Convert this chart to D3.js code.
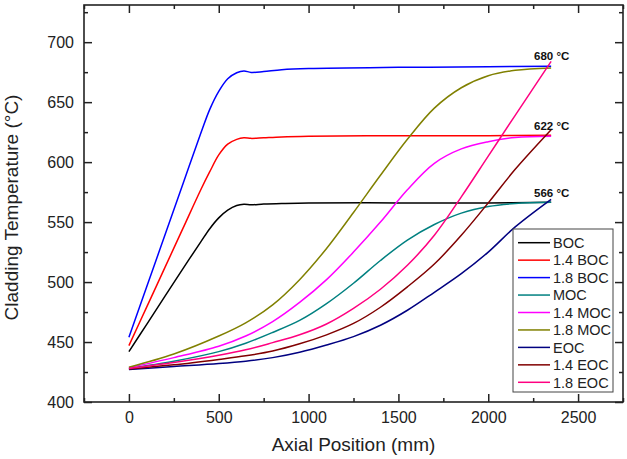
<!DOCTYPE html>
<html>
<head>
<meta charset="utf-8">
<script src="https://cdn.jsdelivr.net/npm/d3@7"></script>
<style>
  html, body { margin: 0; padding: 0; background: #fff; }
  svg { display: block; }
  text { font-family: "Liberation Sans", Arial, sans-serif; }
</style>
</head>
<body>
<svg id="chart" width="627" height="459"></svg>
<script>
// ---- Data ----
const bocX = [0, 100, 200, 300, 400, 450, 500, 550, 600, 640, 680, 750, 850, 1000, 1500, 2000, 2350];
const boc    = [442, 465, 488, 511, 533.5, 544.5, 553.5, 560, 563.8, 564.8, 564.4, 565, 565.5, 566, 566, 566, 566.5];
const boc14  = [447, 479.5, 512, 544.5, 577, 592, 606, 615, 619, 620.3, 619.8, 620.3, 621, 621.5, 622, 622, 622.5];
const boc18  = [454, 496.5, 539, 581.5, 624, 644, 659, 669.5, 674.5, 676, 674.8, 675.5, 677, 678, 679, 679.5, 680];

const lowX = [0, 250, 500, 650, 800, 950, 1100, 1250, 1400, 1550, 1700, 1850, 2000, 2150, 2350];
const moc    = [428, 434, 442, 449, 458, 468, 482, 499, 518, 535, 548, 557.5, 563, 565.5, 566.5];
const moc14  = [428.5, 437, 446.5, 455, 467, 483, 502, 525, 550, 577, 599, 611, 617, 620.5, 621.5];
const moc18  = [429, 440, 455, 466, 481, 502, 528, 558, 589, 619, 645, 662, 672, 676.5, 678.5];
const eoc    = [427, 429.5, 432, 434, 437, 441.5, 447.5, 454.5, 464, 476.5, 491.5, 507, 525, 546, 569];
const eoc14  = [427.5, 431, 435.5, 438.5, 442.5, 448.5, 456, 465.5, 479, 496, 515, 539, 566, 594, 627];
const eoc18  = [428, 433, 439, 443.5, 449.5, 456, 465, 478, 494, 514, 539, 571, 605, 639, 684];

const seriesNames  = ["BOC", "1.4 BOC", "1.8 BOC", "MOC", "1.4 MOC", "1.8 MOC", "EOC", "1.4 EOC", "1.8 EOC"];
const seriesColors = ["#000000", "#ff0000", "#0000ff", "#008080", "#ff00ff", "#808000", "#000080", "#800000", "#ff0080"];
const seriesX      = [bocX, bocX, bocX, lowX, lowX, lowX, lowX, lowX, lowX];
const seriesY      = [boc, boc14, boc18, moc, moc14, moc18, eoc, eoc14, eoc18];

const xTicks = [0, 500, 1000, 1500, 2000, 2500];
const xMinor = [-250, 250, 750, 1250, 1750, 2250, 2750];
const yTicks = [400, 450, 500, 550, 600, 650, 700];
const yMinor = [425, 475, 525, 575, 625, 675, 725];

const annotations = [
  { label: "680 \u00B0C", x: 2255, y: 680 },
  { label: "622 \u00B0C", x: 2255, y: 622 },
  { label: "566 \u00B0C", x: 2255, y: 566 }
];

const xTitle = "Axial Position (mm)";
const yTitle = "Cladding Temperature (\u00B0C)";

// ---- Layout ----
const L = 84, R = 623, T = 5, B = 402;
const svg = d3.select("#chart");

const x = d3.scaleLinear().domain([-250, 2750]).range([L, R]);
const y = d3.scaleLinear().domain([400, 731]).range([B, T]);

svg.append("defs").append("clipPath").attr("id", "clip")
  .append("rect").attr("x", L).attr("y", T).attr("width", R - L).attr("height", B - T);

// ---- Lines ----
const line = d3.line().x(d => x(d[0])).y(d => y(d[1])).curve(d3.curveCatmullRom.alpha(0.5));
const gLines = svg.append("g").attr("clip-path", "url(#clip)");
seriesNames.forEach((_, i) => {
  const pts = seriesX[i].map((xv, j) => [xv, seriesY[i][j]]);
  gLines.append("path")
    .attr("d", line(pts))
    .attr("fill", "none")
    .attr("stroke", seriesColors[i])
    .attr("stroke-width", 1.5);
});

// ---- Axes ----
function styleAxis(g) {
  g.select(".domain").remove();
  g.selectAll(".tick line").attr("stroke", "#222").attr("stroke-width", 1.5);
  g.selectAll(".tick text").attr("fill", "#222").style("font-size", "16px")
    .style("font-family", "'Liberation Sans', Arial, sans-serif");
}

svg.append("g").attr("transform", `translate(0,${B})`)
  .call(d3.axisBottom(x).tickValues(xTicks).tickSize(-8).tickPadding(10).tickFormat(d3.format("d")))
  .call(styleAxis);
svg.append("g").attr("transform", `translate(0,${B})`)
  .call(d3.axisBottom(x).tickValues(xMinor).tickSize(-4).tickFormat(""))
  .call(styleAxis);
svg.append("g").attr("transform", `translate(0,${T})`)
  .call(d3.axisTop(x).tickValues(xTicks).tickSize(-8).tickFormat(""))
  .call(styleAxis);
svg.append("g").attr("transform", `translate(0,${T})`)
  .call(d3.axisTop(x).tickValues(xMinor).tickSize(-4).tickFormat(""))
  .call(styleAxis);

svg.append("g").attr("transform", `translate(${L},0)`)
  .call(d3.axisLeft(y).tickValues(yTicks).tickSize(-8).tickPadding(10).tickFormat(d3.format("d")))
  .call(styleAxis);
svg.append("g").attr("transform", `translate(${L},0)`)
  .call(d3.axisLeft(y).tickValues(yMinor).tickSize(-4).tickFormat(""))
  .call(styleAxis);
svg.append("g").attr("transform", `translate(${R},0)`)
  .call(d3.axisRight(y).tickValues(yTicks).tickSize(-8).tickFormat(""))
  .call(styleAxis);
svg.append("g").attr("transform", `translate(${R},0)`)
  .call(d3.axisRight(y).tickValues(yMinor).tickSize(-4).tickFormat(""))
  .call(styleAxis);

svg.append("rect").attr("x", L).attr("y", T).attr("width", R - L).attr("height", B - T)
  .attr("fill", "none").attr("stroke", "#222").attr("stroke-width", 1.6);

// ---- Titles ----
svg.append("text").attr("x", (L + R) / 2).attr("y", 451)
  .attr("text-anchor", "middle").style("font-size", "19px").attr("fill", "#222")
  .text(xTitle);
svg.append("text")
  .attr("transform", `translate(18,${(T + B) / 2 + 4}) rotate(-90)`)
  .attr("text-anchor", "middle").style("font-size", "19px").attr("fill", "#222")
  .text(yTitle);

// ---- Annotations ----
annotations.forEach(a => {
  svg.append("text").attr("x", x(a.x)).attr("y", y(a.y) - 6)
    .style("font-size", "11.5px").style("font-weight", "bold").attr("fill", "#111")
    .text(a.label);
});

// ---- Legend ----
const lg = svg.append("g");
lg.append("rect").attr("x", 513).attr("y", 229).attr("width", 100).attr("height", 163)
  .attr("fill", "#fff").attr("stroke", "#444").attr("stroke-width", 1);
seriesNames.forEach((name, i) => {
  const cy = 242.7 + i * 17.45;
  lg.append("line").attr("x1", 518).attr("x2", 550).attr("y1", cy).attr("y2", cy)
    .attr("stroke", seriesColors[i]).attr("stroke-width", 1.5);
  lg.append("text").attr("x", 553).attr("y", cy).attr("dy", "0.36em")
    .style("font-size", "14.5px").attr("fill", "#222").text(name);
});
</script>
</body>
</html>
